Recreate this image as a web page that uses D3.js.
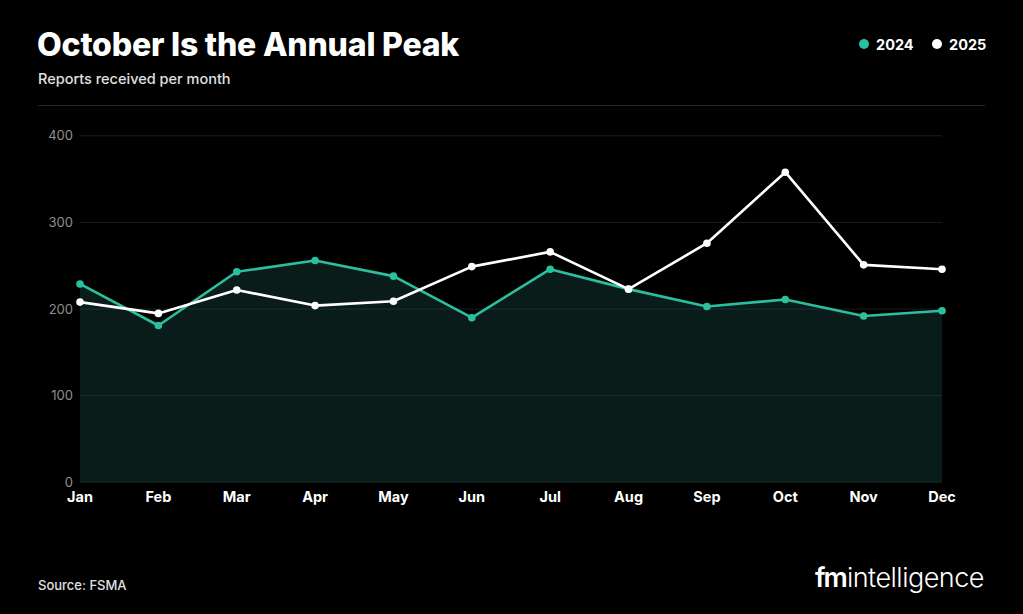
<!DOCTYPE html>
<html><head><meta charset="utf-8">
<script src="https://cdn.jsdelivr.net/npm/d3@7"></script>
<style>
html,body{margin:0;padding:0;background:#000;}
svg{display:block;font-family:Inter,"Noto Sans",sans-serif;}
</style></head>
<body>
<svg id="chart" width="1023" height="614"></svg>
<script>
const months = ["Jan","Feb","Mar","Apr","May","Jun","Jul","Aug","Sep","Oct","Nov","Dec"];
const values2024 = [229,181,243,256,238,190,246,223,203,211,192,198];
const values2025 = [208,195,222,204,209,249,266,223,276,358,251,246];
const yTicks = [0,100,200,300,400];
const seriesNames = ["2024","2025"];

const svg = d3.select("#chart");
const W = 1023, H = 614;
svg.append("rect").attr("width",W).attr("height",H).attr("fill","#000");

const x = d3.scalePoint().domain(months).range([80,942]);
const y = d3.scaleLinear().domain([0,400]).range([482.3,135.8]);
const teal = "#2bbf9f";

// header
svg.append("text").attr("x",37).attr("y",56).attr("fill","#fff")
  .attr("font-size",32).attr("font-weight",800).attr("letter-spacing",-0.2)
  .text("October Is the Annual Peak");
svg.append("text").attr("x",38).attr("y",84).attr("fill","#e0e0e0")
  .attr("font-size",14.5).attr("font-weight",500)
  .text("Reports received per month");
svg.append("line").attr("x1",38).attr("x2",985).attr("y1",105.5).attr("y2",105.5)
  .attr("stroke","#262626").attr("stroke-width",1);

// legend
const lg = svg.append("g");
const legendItems = [{name:seriesNames[0],c:teal,x:864},{name:seriesNames[1],c:"#fff",x:937}];
legendItems.forEach(d=>{
  lg.append("circle").attr("cx",d.x).attr("cy",44).attr("r",5).attr("fill",d.c);
  lg.append("text").attr("x",d.x+12).attr("y",49.5).attr("fill","#fff")
    .attr("font-size",14.5).attr("font-weight",700).text(d.name);
});

// grid
const grid = svg.append("g");
yTicks.forEach(t=>{
  grid.append("line").attr("x1",80).attr("x2",942).attr("y1",y(t)).attr("y2",y(t))
    .attr("stroke","#1c1c1c").attr("stroke-width",1);
  grid.append("text").attr("x",73).attr("y",y(t)+4.5).attr("text-anchor","end")
    .attr("fill","#8f8f8f").attr("font-size",13).text(t);
});

// area for 2024
const area = d3.area().x((d,i)=>x(months[i])).y0(y(0)).y1(d=>y(d));
svg.append("path").datum(values2024).attr("d",area).attr("fill","#0a1c1a");

// grid lines inside area (slightly lighter)
const clipId="areaClip";
svg.append("clipPath").attr("id",clipId).append("path").datum(values2024).attr("d",area);
const g2 = svg.append("g").attr("clip-path",`url(#${clipId})`);
yTicks.forEach(t=>{
  g2.append("line").attr("x1",80).attr("x2",942).attr("y1",y(t)).attr("y2",y(t))
    .attr("stroke","#163330").attr("stroke-width",1);
});

// x axis labels
months.forEach(m=>{
  svg.append("text").attr("x",x(m)).attr("y",502).attr("text-anchor","middle")
    .attr("fill","#fff").attr("font-size",14.5).attr("font-weight",700).text(m);
});

const line = d3.line().x((d,i)=>x(months[i])).y(d=>y(d));
function drawSeries(vals,color){
  svg.append("path").datum(vals).attr("d",line).attr("fill","none")
    .attr("stroke",color).attr("stroke-width",2.6).attr("stroke-linejoin","round");
  svg.append("g").selectAll("circle").data(vals).join("circle")
    .attr("cx",(d,i)=>x(months[i])).attr("cy",d=>y(d)).attr("r",3.8).attr("fill",color);
}
drawSeries(values2024,teal);
drawSeries(values2025,"#fff");

// footer
svg.append("text").attr("x",38).attr("y",590).attr("fill","#e0e0e0")
  .attr("font-size",13).attr("font-weight",500).text("Source: FSMA");
const logo = svg.append("text").attr("x",984).attr("y",587).attr("text-anchor","end")
  .attr("fill","#fff").attr("font-size",27).attr("letter-spacing",-0.5);
logo.append("tspan").attr("font-weight",600).attr("letter-spacing",-2).text("fm");
logo.append("tspan").attr("font-weight",300).attr("dx",1).text("intelligence");
</script>
</body></html>
